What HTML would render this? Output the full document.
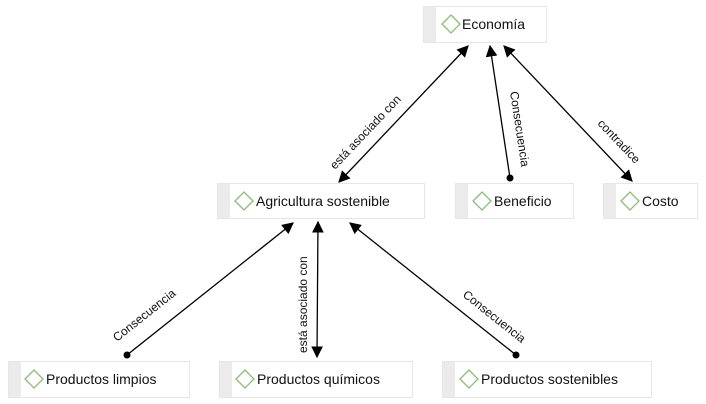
<!DOCTYPE html>
<html><head><meta charset="utf-8"><style>
body{margin:0;background:#fff;width:706px;height:404px;overflow:hidden}
svg{display:block}
text{font-family:"Liberation Sans",sans-serif;fill:#111}
.n{font-size:14px}
.l{font-size:12px}
</style></head><body>
<svg width="706" height="404" viewBox="0 0 706 404">
<defs>
<marker id="a" viewBox="0 0 10 10" refX="9" refY="5" markerWidth="9" markerHeight="9" orient="auto-start-reverse"><path d="M0,0 L10,5 L0,10 z" fill="#000"/></marker>
<g id="d"><path d="M0,-9 L9,0 L0,9 L-9,0 z" fill="none" stroke="#8dbb7a" stroke-width="1.3"/></g>
</defs>
<g stroke="#e6e6e6" fill="#fff">
<rect x="423.5" y="6.5" width="123" height="36"/>
<rect x="217.5" y="183.5" width="207" height="35"/>
<rect x="455.5" y="183.5" width="118" height="35"/>
<rect x="603.5" y="183.5" width="94" height="35"/>
<rect x="8.5" y="361.5" width="181" height="36"/>
<rect x="219.5" y="361.5" width="193" height="36"/>
<rect x="442.5" y="361.5" width="209" height="36"/>
</g>
<g fill="#ebebeb">
<rect x="424" y="7" width="12" height="35"/>
<rect x="218" y="184" width="12" height="34"/>
<rect x="456" y="184" width="12" height="34"/>
<rect x="604" y="184" width="12" height="34"/>
<rect x="9" y="362" width="12" height="35"/>
<rect x="220" y="362" width="12" height="35"/>
<rect x="443" y="362" width="12" height="35"/>
</g>
<use href="#d" x="451" y="24"/><text class="n" x="462" y="29">Economía</text>
<use href="#d" x="244" y="201"/><text class="n" x="256" y="206">Agricultura sostenible</text>
<use href="#d" x="482" y="201"/><text class="n" x="494" y="206">Beneficio</text>
<use href="#d" x="630" y="201"/><text class="n" x="642" y="206">Costo</text>
<use href="#d" x="34" y="379"/><text class="n" x="46" y="384">Productos limpios</text>
<use href="#d" x="245" y="379"/><text class="n" x="257" y="384">Productos químicos</text>
<use href="#d" x="469" y="379"/><text class="n" x="481" y="384">Productos sostenibles</text>
<g stroke="#000" stroke-width="1.3" fill="none">
<line x1="339" y1="182" x2="468" y2="46" marker-start="url(#a)" marker-end="url(#a)"/>
<line x1="510" y1="178" x2="490" y2="46" marker-end="url(#a)"/>
<line x1="504" y1="46" x2="632" y2="181" marker-start="url(#a)" marker-end="url(#a)"/>
<line x1="127" y1="355" x2="293" y2="223" marker-end="url(#a)"/>
<line x1="317" y1="357" x2="318" y2="222" marker-start="url(#a)" marker-end="url(#a)"/>
<line x1="516" y1="355" x2="350" y2="223" marker-end="url(#a)"/>
</g>
<g fill="#000"><circle cx="510" cy="178" r="3.5"/><circle cx="127" cy="355" r="3.5"/><circle cx="516" cy="355" r="3.5"/></g>
<text class="l" transform="translate(335,170) rotate(-46.5)">está asociado con</text>
<text class="l" transform="translate(510,92) rotate(81.4)">Consecuencia</text>
<text class="l" transform="translate(597,124) rotate(46.5)">contradice</text>
<text class="l" transform="translate(117,342) rotate(-38.5)">Consecuencia</text>
<text class="l" transform="translate(307,353) rotate(-90)">está asociado con</text>
<text class="l" transform="translate(462,296) rotate(38.5)">Consecuencia</text>
</svg>
</body></html>
